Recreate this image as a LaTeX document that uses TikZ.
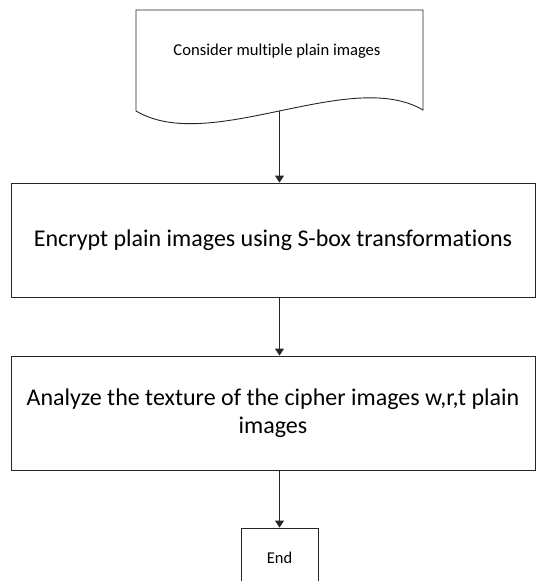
\documentclass[tikz,border=0pt]{standalone}
\usepackage{fontspec}
\setmainfont[Ligatures=NoCommon]{Carlito}
\usetikzlibrary{arrows.meta}
\begin{document}
\begin{tikzpicture}[x=1pt,y=1pt,
  line/.style={draw=black!85,line width=0.9pt},
  procbox/.style={line,rectangle,inner sep=0pt,align=center},
  arr/.style={line,-{Triangle[width=9pt,length=7pt]}}]
\useasboundingbox (0,0) rectangle (536,-581);
% document shape
\draw[line] (136,-111) -- (136,-10) -- (423,-10) -- (423,-110)
  .. controls (350,-67) and (210,-155) .. (136,-111);
\coordinate (docbot) at (279.5,-111);
\node[font=\fontsize{16.6}{20}\selectfont] (doc) at (277,-51) {Consider multiple plain images};
\node[procbox,minimum width=524pt,minimum height=114pt,font=\fontsize{24}{28}\selectfont] (enc) at (273,-240)
  {Encrypt plain images using S-box transformations};
\node[procbox,minimum width=524pt,minimum height=114pt,font=\fontsize{24}{28}\selectfont] (ana) at (273,-413)
  {Analyze the texture of the cipher images w,r,t plain\\images};
\node[procbox,minimum width=77pt,minimum height=60pt,font=\fontsize{16.5}{20}\selectfont] (end) at (279.5,-558)
  {End};
\draw[arr] (docbot) -- (docbot |- enc.north);
\draw[arr] (enc.south -| docbot) -- (docbot |- ana.north);
\draw[arr] (ana.south -| docbot) -- (end.north);
\end{tikzpicture}
\end{document}
